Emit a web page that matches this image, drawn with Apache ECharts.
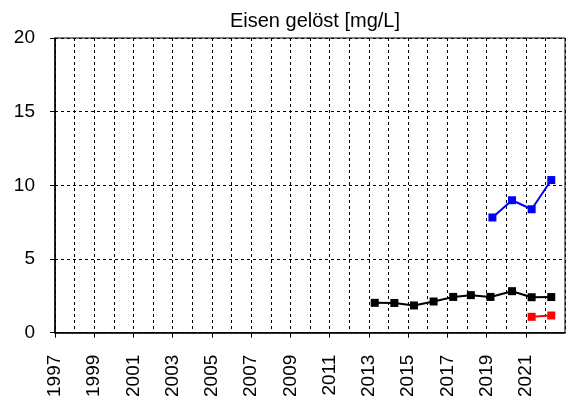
<!DOCTYPE html>
<html>
<head>
<meta charset="utf-8">
<script src="https://cdn.jsdelivr.net/npm/echarts@6/dist/echarts.min.js"></script>
<style>
	html, body { margin: 0; padding: 0; background: #fff; }
	#main { width: 566px; height: 400px; }
</style>
</head>
<body>
<div id="main"></div>
<script>
var chartTitle = 'Eisen gelöst [mg/L]';
// decimal year positions
var blackYears = [2013.3, 2014.3, 2015.3, 2016.3, 2017.3, 2018.2, 2019.2, 2020.3, 2021.3, 2022.3];
var blackValues = [2.03, 2.02, 1.85, 2.12, 2.43, 2.55, 2.43, 2.82, 2.41, 2.42];
var blueYears = [2019.3, 2020.3, 2021.3, 2022.3];
var blueValues = [7.82, 8.99, 8.38, 10.36];
var redYears = [2021.3, 2022.3];
var redValues = [1.08, 1.17];

function pairs(xs, ys) {
	var out = [];
	for (var i = 0; i < xs.length; i++) out.push([xs[i], ys[i]]);
	return out;
}

var dash = { color: '#000', width: 1, type: [3, 3] };
var font = 'Liberation Sans, Arial, sans-serif';

function line(name, color, xs, ys) {
	return {
		name: name,
		type: 'line',
		data: pairs(xs, ys),
		symbol: 'rect',
		symbolSize: 8,
		lineStyle: { color: color, width: 2 },
		itemStyle: { color: color },
		animation: false
	};
}

var myChart = echarts.init(document.getElementById('main'));
var option = {
	backgroundColor: '#fff',
	title: {
		text: chartTitle,
		left: 310, top: 6, textAlign: 'center',
		textStyle: { fontFamily: font, fontSize: 20, fontWeight: 'normal', color: '#000' }
	},
	grid: {
		left: 55, right: 1, top: 38, bottom: 66,
		show: true, borderColor: '#000', borderWidth: 1
	},
	xAxis: {
		type: 'value', min: 1997, max: 2023, interval: 2,
		axisLine: { show: true, lineStyle: { color: '#000', width: 1.5 } },
		axisTick: { show: true, length: 5, lineStyle: { color: '#000' } },
		minorTick: { show: false, splitNumber: 2 },
		splitLine: { show: true, lineStyle: dash },
		minorSplitLine: { show: true, lineStyle: dash },
		axisLabel: {
			rotate: 90, margin: 22, showMaxLabel: false,
			fontFamily: font, fontSize: 19, color: '#000',
			formatter: function (v) { return String(v); }
		}
	},
	yAxis: {
		type: 'value', min: 0, max: 20, interval: 5,
		axisLine: { show: true, lineStyle: { color: '#000', width: 1.5 } },
		axisTick: { show: true, inside: false, length: 5, lineStyle: { color: '#000' } },
		splitLine: { show: true, lineStyle: dash },
		axisLabel: { margin: 20, fontFamily: font, fontSize: 19, color: '#000' }
	},
	series: [
		line('black', '#000', blackYears, blackValues),
		line('blue', '#0000ff', blueYears, blueValues),
		line('red', '#ff0000', redYears, redValues)
	]
};
myChart.setOption(option, true);
</script>
</body>
</html>
